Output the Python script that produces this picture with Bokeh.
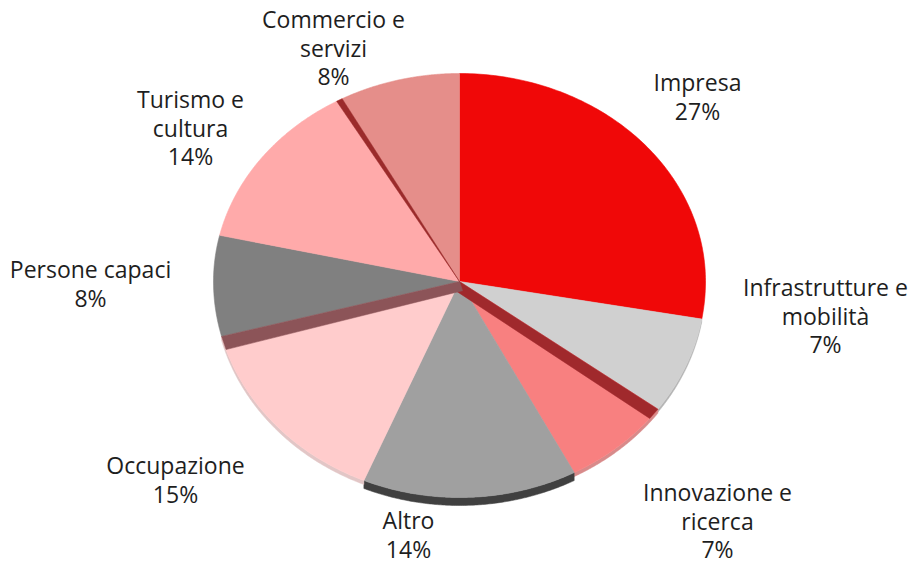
import numpy as np
from bokeh.plotting import figure
from bokeh.models import Range1d, ColumnDataSource
from bokeh.embed import file_html
from bokeh.resources import INLINE
from bokeh.core.properties import value

# ---------------- data ----------------
categories = ["Impresa", "Infrastrutture e mobilità", "Innovazione e ricerca", "Altro",
              "Occupazione", "Persone capaci", "Turismo e cultura", "Commercio e servizi"]
label_lines = [["Impresa"], ["Infrastrutture e", "mobilità"], ["Innovazione e", "ricerca"],
               ["Altro"], ["Occupazione"], ["Persone capaci"], ["Turismo e", "cultura"],
               ["Commercio e", "servizi"]]
shares = [27, 7, 7, 14, 15, 8, 14, 8]

# ---------------- styles / layout ----------------
colors = ["#F00808", "#D0D0D0", "#F88080", "#A0A0A0", "#FFCCCC", "#808080", "#FFAAAA", "#E58E8A"]
rim_colors = [None, "#B4B4B4", "#D88A8A", "#404040", "#E2C6C6", None, None, None]
rim_heights = [0, 3, 4, 8, 4, 0, 0, 0]
label_pos = [(697, 96), (825, 315), (717, 520), (408, 534), (175, 479), (90, 283), (190, 127), (333, 47)]
LINE_H = 28.5

W, H = 908, 564
CX, CY = 459.0, 281.0
RX, RY_TOP, RY_BOT = 246.0, 208.0, 216.0
WARP = 2.5  # perspective-like angular warp (degrees)


def proj(phi_deg):
    phi = np.asarray(phi_deg, dtype=float)
    t = np.radians(phi - WARP * (1 - np.sin(np.radians(phi))))
    s = np.sin(t)
    ry = np.where(s > 0, RY_TOP, RY_BOT)
    return CX + RX * np.cos(t), CY - ry * s


p = figure(width=W, height=H, output_backend="svg", toolbar_location=None,
           x_axis_type=None, y_axis_type=None, min_border=0,
           x_range=Range1d(0, W), y_range=Range1d(H, 0))
p.grid.visible = False
p.outline_line_color = None
p.background_fill_color = "white"

total = float(sum(shares))
starts, ends = [], []
acc = 0.0
for s in shares:
    a0 = 90 - 360 * acc / total
    acc += s
    a1 = 90 - 360 * acc / total
    starts.append(a0)
    ends.append(a1)

# rims (side walls on the front of the pie)
rx_list, ry_list, rc_list = [], [], []
for i in range(len(shares)):
    if rim_heights[i] <= 0:
        continue
    a0, a1 = starts[i], ends[i]
    ang = np.linspace(a0, a1, 120)
    ang = ang[np.sin(np.radians(ang)) <= 0.02]
    if len(ang) < 2:
        continue
    x_top, y_top = proj(ang)
    xs = np.concatenate([x_top, x_top[::-1]])
    ys = np.concatenate([y_top, (y_top + rim_heights[i])[::-1]])
    rx_list.append(list(xs)); ry_list.append(list(ys)); rc_list.append(rim_colors[i])
p.patches(xs="xs", ys="ys", fill_color="c", line_color="c", line_width=0.5,
          source=ColumnDataSource(dict(xs=rx_list, ys=ry_list, c=rc_list)))

# faces
fx, fy = [], []
for i in range(len(shares)):
    ang = np.linspace(starts[i], ends[i], 120)
    x, y = proj(ang)
    fx.append([CX] + list(x))
    fy.append([CY] + list(y))
p.patches(xs="xs", ys="ys", fill_color="c", line_color="c", line_width=0.6,
          source=ColumnDataSource(dict(xs=fx, ys=fy, c=colors)))

# radial side walls (strips) at some boundaries
strip_specs = [  # (boundary after slice, delta angle, inner factor, colour)
    (1, -3.0, 0.8, "#A0292C"),
    (4, 3.8, 0.7, "#8C5458"),
    (6, 1.5, 0.0, "#9B2B2B"),
]
sx, sy, sc = [], [], []
for bi, d, k, c in strip_specs:
    phib = ends[bi]
    x0, y0 = proj(phib)
    x1, y1 = proj(phib + d)
    x0, y0, x1, y1 = float(x0), float(y0), float(x1), float(y1)
    vx, vy = (x1 - x0) * k, (y1 - y0) * k
    sx.append([CX, x0, x1, CX + vx])
    sy.append([CY, y0, y1, CY + vy])
    sc.append(c)
p.patches(xs="xs", ys="ys", fill_color="c", line_color="c", line_width=0.5,
          source=ColumnDataSource(dict(xs=sx, ys=sy, c=sc)))

# labels
tx, ty, tt = [], [], []
for i, lines in enumerate(label_lines):
    all_lines = lines + [f"{shares[i]}%"]
    cx, cy = label_pos[i]
    n = len(all_lines)
    for j, line in enumerate(all_lines):
        tx.append(cx)
        ty.append(cy + (j - (n - 1) / 2) * LINE_H)
        tt.append(line)
p.text(x="x", y="y", text="t", source=ColumnDataSource(dict(x=tx, y=ty, t=tt)),
       text_font=value("Open Sans"), text_font_size="23px", text_color="#1E1E1E",
       text_align="center", text_baseline="middle")

open("out.html", "w").write(file_html(p, INLINE))
